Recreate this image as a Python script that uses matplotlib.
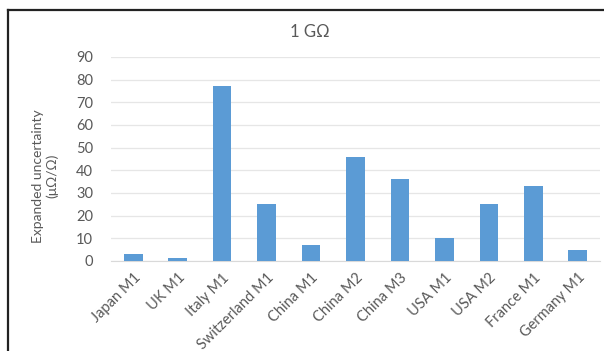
import matplotlib
matplotlib.use('Agg')
import matplotlib.pyplot as plt
from matplotlib.lines import Line2D
import numpy as np

labs = ['Japan M1', 'UK M1', 'Italy M1', 'Switzerland M1', 'China M1', 'China M2',
        'China M3', 'USA M1', 'USA M2', 'France M1', 'Germany M1']
vals = [3, 1.5, 77, 25, 7, 46, 36, 10, 25, 33, 5]
yticks = [0, 10, 20, 30, 40, 50, 60, 70, 80, 90]

plt.rcParams['font.family'] = ['Lato', 'DejaVu Sans']
txt = '#595959'

fig = plt.figure(figsize=(6.04, 3.51), dpi=100)
ax = fig.add_axes([111/604, 1 - 261/351, (600 - 111)/604, (261 - 57)/351])

x = np.arange(len(labs))
ax.bar(x, vals, width=0.42, color='#5b9bd5', zorder=3)

ax.set_ylim(0, 90)
ax.set_xlim(-0.5, len(labs) - 0.5)
ax.set_yticks(yticks)
ax.set_yticklabels([str(t) for t in yticks], fontsize=10.5, color=txt)
ax.set_xticks(x)
ax.set_xticklabels(labs, rotation=45, ha='right', rotation_mode='anchor',
                   fontsize=10.5, color=txt)
ax.tick_params(axis='y', length=0, pad=13)
ax.tick_params(axis='x', length=0, pad=7)
ax.grid(axis='y', color='#e6e6e6', linewidth=0.9, zorder=0)
for s in ['top', 'right', 'left']:
    ax.spines[s].set_visible(False)
ax.spines['bottom'].set_color('#d9d9d9')

fig.text(45/604, 1 - 176/351, 'Expanded uncertainty\n(μΩ/Ω)', rotation=90,
         ha='center', va='center', fontsize=10, color=txt, linespacing=1.15)
fig.text(310/604, 1 - 32/351, '1 GΩ', ha='center', va='center', fontsize=12, color=txt)

# outer frame lines
fig.add_artist(Line2D([8/604, 1], [1 - 10/351, 1 - 10/351], color='#222222', lw=1.6,
                      transform=fig.transFigure))
fig.add_artist(Line2D([8/604, 8/604], [0, 1 - 10/351], color='#222222', lw=1.6,
                      transform=fig.transFigure))

fig.savefig('out.png', dpi=100)
